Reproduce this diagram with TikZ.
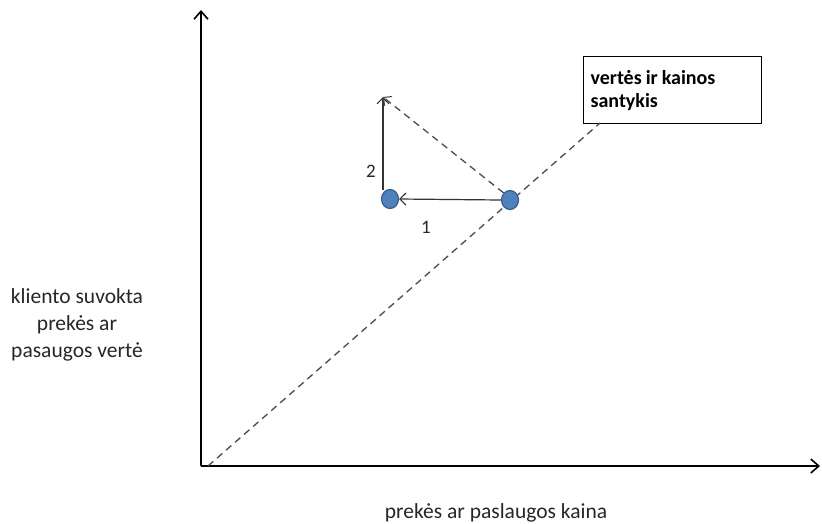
\documentclass[tikz,border=0pt]{standalone}
\usepackage{fontspec}
\setmainfont{Carlito}
\usetikzlibrary{arrows.meta,shapes.geometric}
\definecolor{dotfill}{HTML}{4F81BD}
\definecolor{dotdraw}{HTML}{385D8A}
\begin{document}
\begin{tikzpicture}[x=1pt,y=-1pt,
  axis/.style={line width=2.2pt,-{Straight Barb[length=8pt,width=14pt,line width=1.6pt]}},
  dashline/.style={dash pattern=on 7pt off 5pt,line width=1.3pt,draw=black!70},
  thinarrow/.style={line width=1.2pt,draw=black!80,-{Straight Barb[length=6pt,width=12pt,line width=1.1pt]}},
  dot/.style={ellipse,minimum width=17pt,minimum height=19pt,inner sep=0pt,fill=dotfill,draw=dotdraw,line width=1.2pt},
  lbl/.style={font=\fontsize{21.5}{27}\selectfont,align=center,text=black!85},
  numlbl/.style={font=\fontsize{19}{22}\selectfont,text=black!85},
  boxlbl/.style={draw,line width=1.2pt,font=\bfseries\fontsize{20}{23}\selectfont,align=left,minimum width=178pt,minimum height=67pt,text width=164pt,inner sep=6pt}]
\useasboundingbox (0,0) rectangle (822,523);
\coordinate (O) at (201,466);
\coordinate (ytop) at (201,10);
\coordinate (xend) at (820,466);
\draw[axis] (O) -- (ytop);
\draw[axis] (O) -- (xend);
\node[boxlbl,anchor=north west] (box) at (583,56) {\spaceskip=0.2em vertės ir kainos\\santykis};
\coordinate (dstart) at (208,466);
\coordinate (dend) at (600,123);
\draw[dashline] (dstart) -- (dend);
\node[dot] (R) at (510,200) {};
\node[dot] (L) at (390,199) {};
\coordinate (top) at (383,97);
\coordinate (Lbase) at (383,190);
\draw[thinarrow] (R.west) -- (L.east);
\draw[thinarrow] (Lbase) -- (top);
\draw[dashline,-{Straight Barb[length=6pt,width=12pt,line width=1.1pt]}] (R.north west) -- (top);
\node[numlbl] (n2) at (371,171) {2};
\node[numlbl] (n1) at (426,227) {1};
\node[lbl] (ylab) at (77,325) {kliento suvokta\\prekės ar\\pasaugos vertė};
\node[lbl] (xlab) at (496,513) {prekės ar paslaugos kaina};
\end{tikzpicture}
\end{document}
